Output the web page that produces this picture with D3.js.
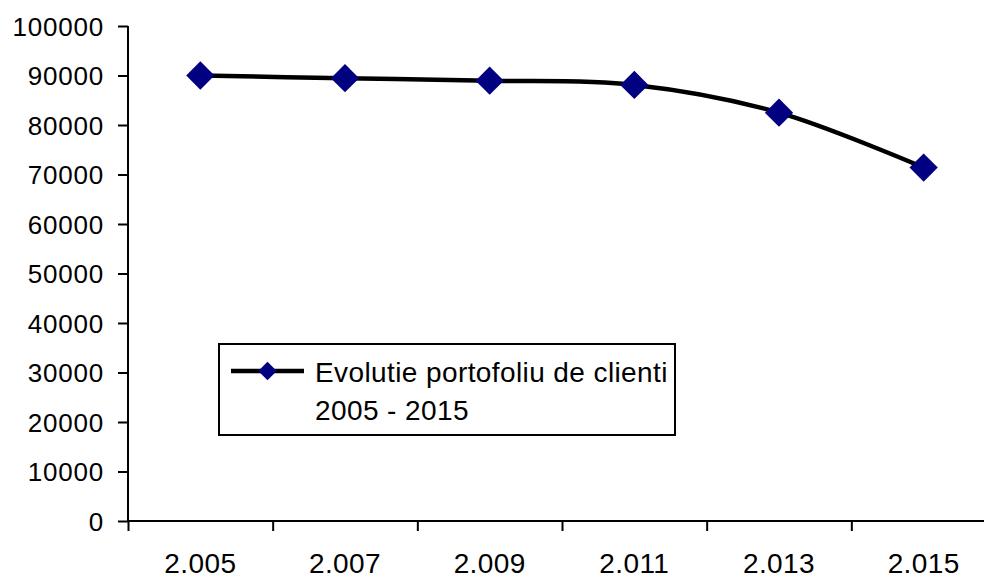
<!doctype html>
<html>
<head>
<meta charset="utf-8">
<style>
  body { margin: 0; background: #fff; }
  svg text { font-family: Arial, "Liberation Sans", sans-serif; fill: #000; }
</style>
<script src="https://cdn.jsdelivr.net/npm/d3@7"></script>
</head>
<body>
<svg id="chart" width="984" height="577"></svg>
<script>
// data
var years = ["2.005", "2.007", "2.009", "2.011", "2.013", "2.015"];
var clients = [90000, 89450, 88950, 88100, 82500, 71400];
var yTicks = [0, 10000, 20000, 30000, 40000, 50000, 60000, 70000, 80000, 90000, 100000];
var legendLines = ["Evolutie portofoliu de clienti", "2005 - 2015"];

var svg = d3.select("#chart");
var plotLeft = 128, plotRight = 996, plotTop = 26, plotBottom = 521;

var x = d3.scaleBand().domain(years).range([plotLeft, plotRight]);
var xEdge = d3.scaleLinear().domain([0, years.length]).range([plotLeft, plotRight]);
var y = d3.scaleLinear().domain([0, 100000]).range([plotBottom, plotTop]);

// y axis
var gy = svg.append("g")
  .attr("transform", "translate(" + plotLeft + ",0)")
  .call(d3.axisLeft(y).tickValues(yTicks).tickSize(10).tickPadding(14).tickFormat(d3.format("d")));
gy.select(".domain").attr("stroke", "#000").attr("stroke-width", 2).attr("d", "M0," + plotTop + "V" + plotBottom);
gy.selectAll(".tick line").attr("stroke", "#000").attr("stroke-width", 2);
gy.selectAll(".tick text").attr("font-size", 26).attr("dy", "0.36em").attr("letter-spacing", 0.8);

// x axis: tick marks on category boundaries
var gx = svg.append("g")
  .attr("transform", "translate(0," + plotBottom + ")")
  .call(d3.axisBottom(xEdge).tickValues(d3.range(years.length + 1)).tickSize(10).tickFormat(""));
gx.select(".domain").attr("stroke", "#000").attr("stroke-width", 2).attr("d", "M" + plotLeft + ",0H" + plotRight);
gx.selectAll(".tick line").attr("stroke", "#000").attr("stroke-width", 2);

var gxl = svg.append("g")
  .attr("transform", "translate(0," + plotBottom + ")")
  .call(d3.axisBottom(x).tickSize(0).tickPadding(32));
gxl.select(".domain").remove();
gxl.selectAll(".tick text").attr("font-size", 28).attr("dy", "0.71em").attr("letter-spacing", 0.4);

// line
var line = d3.line()
  .x(function(d, i) { return x(years[i]) + x.bandwidth() / 2; })
  .y(function(d) { return y(d); })
  .curve(d3.curveCardinal.tension(0));

svg.append("path")
  .attr("d", line(clients))
  .attr("fill", "none")
  .attr("stroke", "#000")
  .attr("stroke-width", 4.5);

svg.selectAll(".pt").data(clients).enter().append("path")
  .attr("class", "pt")
  .attr("d", d3.symbol().type(d3.symbolSquare).size(400))
  .attr("transform", function(d, i) {
    return "translate(" + (x(years[i]) + x.bandwidth() / 2) + "," + y(d) + ") rotate(45)";
  })
  .attr("fill", "#000080");

// legend
var lg = svg.append("g");
lg.append("rect")
  .attr("x", 219).attr("y", 344).attr("width", 456).attr("height", 91)
  .attr("fill", "#fff").attr("stroke", "#000").attr("stroke-width", 2);
lg.append("line")
  .attr("x1", 231).attr("x2", 304).attr("y1", 371).attr("y2", 371)
  .attr("stroke", "#000").attr("stroke-width", 4.5);
lg.append("path")
  .attr("d", d3.symbol().type(d3.symbolSquare).size(170))
  .attr("transform", "translate(267.5,371) rotate(45)")
  .attr("fill", "#000080");
lg.selectAll(".lt").data(legendLines).enter().append("text")
  .attr("class", "lt")
  .attr("x", 315)
  .attr("y", function(d, i) { return 382 + i * 38; })
  .attr("font-size", 28)
  .attr("letter-spacing", 0.4)
  .text(function(d) { return d; });
</script>
</body>
</html>
